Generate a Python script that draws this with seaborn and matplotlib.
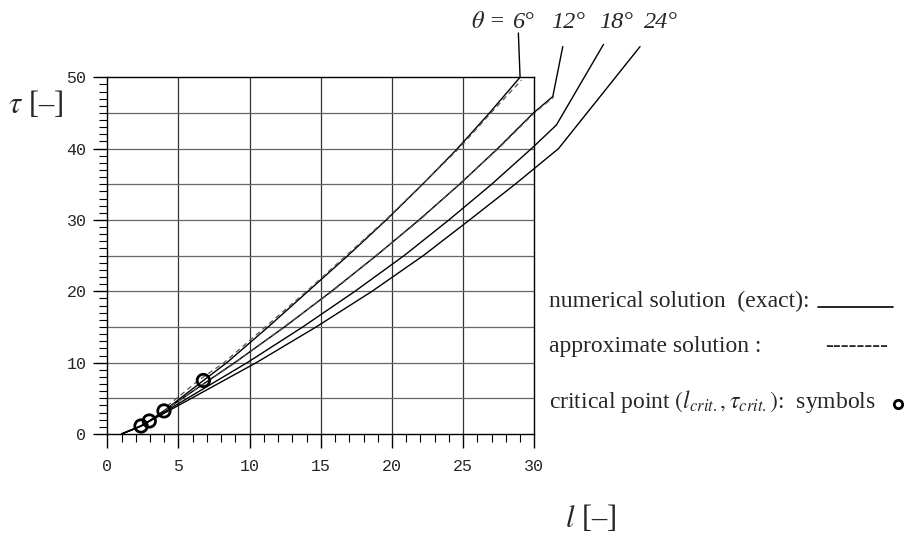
import numpy as np
import seaborn as sns
import matplotlib.pyplot as plt
from matplotlib.lines import Line2D
from matplotlib.ticker import MultipleLocator

# ======================================
# DATA
# ======================================

angles = ["6°", "12°", "18°", "24°"]

l_6 = [1.0, 2.37, 2.95, 3.98, 6.75, 8.4, 11.3, 14.1, 16.9, 19.6, 22.15, 24.6, 26.85, 29.0]
tau_6 = [0.0, 1.12, 1.82, 3.23, 7.5, 10, 15, 20, 25, 30, 35, 40, 45, 50]

l_12 = [1.0, 2.37, 2.95, 3.98, 8.95, 12.45, 15.75, 18.9, 21.9, 24.75, 27.42, 29.94, 31.3]
tau_12 = [0.0, 1.12, 1.82, 3.23, 10, 15, 20, 25, 30, 35, 40, 45, 47.3]

l_18 = [1.0, 2.37, 2.95, 9.83, 13.73, 17.4, 20.85, 24.0, 27.0, 29.8, 31.55]
tau_18 = [0.0, 1.12, 1.82, 10, 15, 20, 25, 30, 35, 40, 43.3]

l_24 = [1.0, 2.37, 10.47, 14.67, 18.6, 22.2, 25.45, 28.65, 31.7]
tau_24 = [0.0, 1.12, 10, 15, 20, 25, 30, 35, 40]

# approximate solutions
l_6_approx = [4.2, 6.4, 8.2, 14.0, 19.55, 24.7, 26.95, 29.1]
tau_6_approx = [3.9, 7.5, 10, 20, 30, 40, 45, 49.6]

l_12_approx = [3.98, 9.0, 15.8, 21.95, 27.47, 30.0, 31.35]
tau_12_approx = [3.23, 10, 20, 30, 40, 45, 47.2]

# critical points
crit_l = [6.75, 3.98, 2.95, 2.37]
crit_tau = [7.5, 3.23, 1.82, 1.12]

# label positions for the angle annotations
label_l = [29.2, 32.4, 35.75, 38.9]
label_tau = [56.9, 56.9, 56.9, 56.9]
leader_l = [28.88, 32.0, 34.86, 37.43]
leader_tau = [56.2, 54.3, 54.6, 54.3]

x_ticks = [0, 5, 10, 15, 20, 25, 30]
y_ticks = [0, 10, 20, 30, 40, 50]

# ======================================
# STYLE
# ======================================

sns.set_theme(style="white")
plt.rcParams["font.family"] = ["Liberation Serif", "DejaVu Serif"]
plt.rcParams["mathtext.fontset"] = "stix"

fig = plt.figure(figsize=(9.11, 5.34), dpi=100)
ax = fig.add_axes([0.1178, 0.1873, 0.4687, 0.668])

# ======================================
# CURVES
# ======================================

exact = [(l_6, tau_6), (l_12, tau_12), (l_18, tau_18), (l_24, tau_24)]

for l_vals, tau_vals in exact:
    sns.lineplot(
        x=l_vals,
        y=tau_vals,
        sort=False,
        estimator=None,
        color="black",
        linewidth=1.0,
        clip_on=False,
        ax=ax
    )

for l_vals, tau_vals in [(l_6_approx, tau_6_approx), (l_12_approx, tau_12_approx)]:
    sns.lineplot(
        x=l_vals,
        y=tau_vals,
        sort=False,
        estimator=None,
        color="#555555",
        linewidth=0.9,
        linestyle=(0, (4, 3)),
        clip_on=False,
        ax=ax
    )

sns.scatterplot(
    x=crit_l,
    y=crit_tau,
    s=80,
    facecolor="none",
    edgecolor="black",
    linewidth=2,
    zorder=5,
    clip_on=False,
    ax=ax
)

# ======================================
# AXES
# ======================================

ax.set_xlim(0, 30)
ax.set_ylim(0, 50)

ax.xaxis.set_major_locator(MultipleLocator(5))
ax.xaxis.set_minor_locator(MultipleLocator(1))
ax.yaxis.set_major_locator(MultipleLocator(10))
ax.yaxis.set_minor_locator(MultipleLocator(1))

ax.set_xticks(x_ticks)
ax.set_yticks(y_ticks)
ax.set_xticklabels([str(v) for v in x_ticks], family="Liberation Mono", fontsize=12)
ax.set_yticklabels([str(v) for v in y_ticks], family="Liberation Mono", fontsize=12)

ax.tick_params(axis="both", which="major", direction="out", length=10,
               width=1, color="black", bottom=True, left=True)
ax.tick_params(axis="both", which="minor", direction="out", length=6,
               width=0.8, color="black", bottom=True, left=True)
ax.tick_params(axis="x", which="major", pad=8)
ax.tick_params(axis="y", which="major", pad=5)

for spine in ax.spines.values():
    spine.set_color("black")
    spine.set_linewidth(1.0)

for v in np.arange(5, 30, 5):
    ax.axvline(v, color="#333333", linewidth=0.9, zorder=0)
for v in np.arange(5, 50, 5):
    ax.axhline(v, color="#666666", linewidth=0.9, zorder=0)

ax.set_xlabel("")
ax.set_ylabel("")

# ======================================
# ANGLE LABELS
# ======================================

for i, name in enumerate(angles):
    ax.annotate(
        "",
        xy=(exact[i][0][-1], exact[i][1][-1]),
        xytext=(leader_l[i], leader_tau[i]),
        arrowprops=dict(arrowstyle="-", color="black", lw=1.0,
                        shrinkA=0, shrinkB=0),
        annotation_clip=False
    )
    ax.text(label_l[i], label_tau[i], name, ha="center", va="baseline",
            fontsize=17.5, style="italic", clip_on=False)

ax.text(label_l[0] - 1.1, label_tau[0], r"$\theta$ = ", ha="right",
        va="baseline", fontsize=17.5, style="italic", clip_on=False)

# ======================================
# AXIS LABELS
# ======================================

fig.text(8 / 911, 1 - 113 / 534, r"$\tau$ [–]", fontsize=22, va="baseline")
fig.text(565 / 911, 1 - 527 / 534, r"$l$ [–]", fontsize=22, va="baseline")

# ======================================
# LEGEND (text style)
# ======================================

fig.text(549 / 911, 1 - 307 / 534, "numerical solution  (exact):",
         fontsize=17, va="baseline")
fig.add_artist(Line2D([818 / 911, 893 / 911], [1 - 307 / 534, 1 - 307 / 534],
                      color="black", linewidth=1.2))

fig.text(549 / 911, 1 - 352 / 534, "approximate solution :",
         fontsize=17, va="baseline")
fig.text(825 / 911, 1 - 352 / 534, "--------", fontsize=17, va="baseline")

fig.text(549 / 911, 1 - 408 / 534,
         r"critical point $(l_{crit.}, \tau_{crit.})$:  symbols",
         fontsize=17, va="baseline")
fig.add_artist(Line2D([898 / 911], [1 - 404 / 534], marker="o",
                      markersize=6, markerfacecolor="none",
                      markeredgecolor="black", markeredgewidth=2))

plt.savefig("out.png", dpi=100)
